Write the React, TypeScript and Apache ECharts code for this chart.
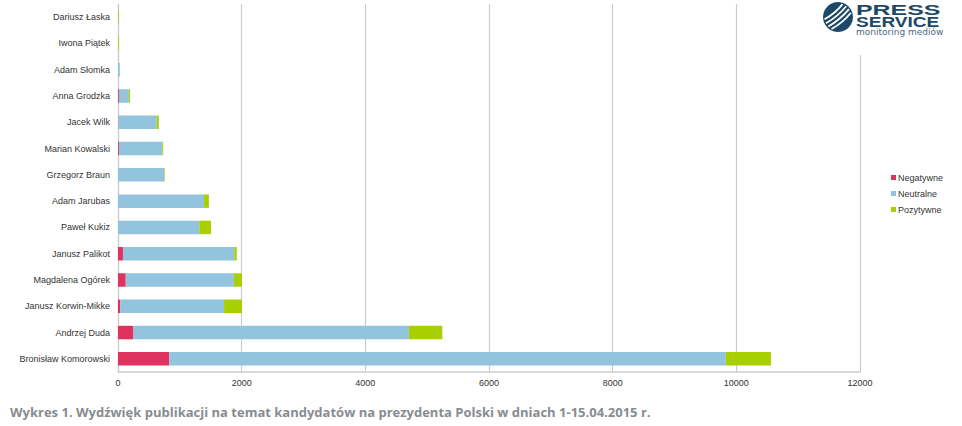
import React, { useEffect, useRef } from "react";
import * as echarts from "echarts";

const categories = [
  "Bronisław Komorowski",
  "Andrzej Duda",
  "Janusz Korwin-Mikke",
  "Magdalena Ogórek",
  "Janusz Palikot",
  "Paweł Kukiz",
  "Adam Jarubas",
  "Grzegorz Braun",
  "Marian Kowalski",
  "Jacek Wilk",
  "Anna Grodzka",
  "Adam Słomka",
  "Iwona Piątek",
  "Dariusz Łaska",
];
const negatywne = [830, 250, 35, 125, 80, 0, 0, 0, 15, 5, 15, 0, 0, 0];
const neutralne = [9000, 4455, 1680, 1750, 1800, 1315, 1390, 745, 700, 620, 160, 30, 3, 3];
const pozytywne = [730, 540, 290, 130, 40, 190, 80, 10, 15, 35, 20, 0, 12, 10];
const xTicks = { min: 0, max: 12000, interval: 2000 };
const caption =
  "Wykres 1. Wydźwięk publikacji na temat kandydatów na prezydenta Polski w dniach 1-15.04.2015 r.";

const RED = "#e0325f";
const BLUE = "#92c4de";
const GREEN = "#a8d000";
const NAVY = "#1d4868";

function logoStripes() {
  const cx = 838, cy = 17, r = 15;
  const out: any[] = [];
  const ang = (-40 * Math.PI) / 180;
  const dx = Math.cos(ang), dy = Math.sin(ang);
  const nx = -dy, ny = dx;
  const offs = [-7, -3, 1, 5];
  offs.forEach((o) => {
    const half = Math.sqrt(Math.max(r * r - o * o, 0)) - 1.5;
    const px = cx + nx * o, py = cy + ny * o;
    out.push({
      type: "bezierCurve",
      shape: {
        x1: px - dx * half,
        y1: py - dy * half,
        x2: px + dx * half,
        y2: py + dy * half,
        cpx1: px + nx * 2.5,
        cpy1: py + ny * 2.5,
      },
      style: { stroke: "#ffffff", lineWidth: 1.8, fill: null },
      z: 101,
    });
  });
  return out;
}

export default function App() {
  const ref = useRef<HTMLDivElement>(null);
  useEffect(() => {
    if (!ref.current) return;
    const chart = echarts.init(ref.current, undefined, { renderer: "svg" });
    const labelFont = "'Liberation Sans', Arial, sans-serif";
    chart.setOption({
      animation: false,
      backgroundColor: "#ffffff",
      grid: { left: 118, right: 102, top: 4, bottom: 54, containLabel: false },
      legend: {
        orient: "vertical",
        left: 886,
        top: 168,
        itemWidth: 5,
        itemHeight: 5,
        itemGap: 7,
        icon: "rect",
        textStyle: { fontSize: 9, color: "#333", fontFamily: labelFont, padding: [0, 0, 0, -3] },
        data: ["Negatywne", "Neutralne", "Pozytywne"],
      },
      xAxis: {
        type: "value",
        min: xTicks.min,
        max: xTicks.max,
        interval: xTicks.interval,
        axisLine: { show: true, lineStyle: { color: "#cccccc", width: 1.5 } },
        axisTick: { show: false },
        axisLabel: {
          fontSize: 9,
          color: "#333",
          fontFamily: labelFont,
          margin: 6,
          formatter: (v: number) => String(v),
        },
        splitLine: { show: true, lineStyle: { color: "#cccccc", width: 1.2 } },
      },
      yAxis: {
        type: "category",
        data: categories,
        axisLine: { show: true, lineStyle: { color: "#cccccc", width: 1.2 } },
        axisTick: { show: false },
        axisLabel: { fontSize: 9, color: "#333", fontFamily: labelFont, margin: 8 },
      },
      series: [
        { name: "Negatywne", type: "bar", stack: "t", data: negatywne, barWidth: 13.5, itemStyle: { color: RED } },
        { name: "Neutralne", type: "bar", stack: "t", data: neutralne, barWidth: 13.5, itemStyle: { color: BLUE } },
        { name: "Pozytywne", type: "bar", stack: "t", data: pozytywne, barWidth: 13.5, itemStyle: { color: GREEN } },
      ],
      graphic: [
        { type: "rect", shape: { x: 815, y: 0, width: 140, height: 55 }, style: { fill: "#ffffff" }, z: 100 },
        { type: "circle", shape: { cx: 838, cy: 17, r: 15 }, style: { fill: NAVY }, z: 100 },
        ...logoStripes(),
        {
          type: "text",
          x: 856,
          y: 3,
          scaleX: 1.78,
          style: { text: "PRESS", fill: NAVY, font: "900 14px 'Liberation Sans', Arial, sans-serif" },
          z: 101,
        },
        {
          type: "text",
          x: 856,
          y: 15,
          scaleX: 1.36,
          style: { text: "SERVICE", fill: NAVY, font: "900 14px 'Liberation Sans', Arial, sans-serif" },
          z: 101,
        },
        {
          type: "text",
          x: 856,
          y: 27,
          style: { text: "monitoring mediów", fill: "#4a6a86", font: "9px 'DejaVu Sans', sans-serif" },
          z: 101,
        },
        {
          type: "text",
          left: 10,
          top: 405,
          style: { text: caption, fill: "#888c90", font: "bold 13px 'Open Sans', sans-serif" },
          z: 101,
        },
      ],
    });
    return () => chart.dispose();
  }, []);
  return (
    <div
      ref={ref}
      style={{ position: "fixed", left: 0, top: 0, width: 962, height: 426, background: "#fff" }}
    />
  );
}
